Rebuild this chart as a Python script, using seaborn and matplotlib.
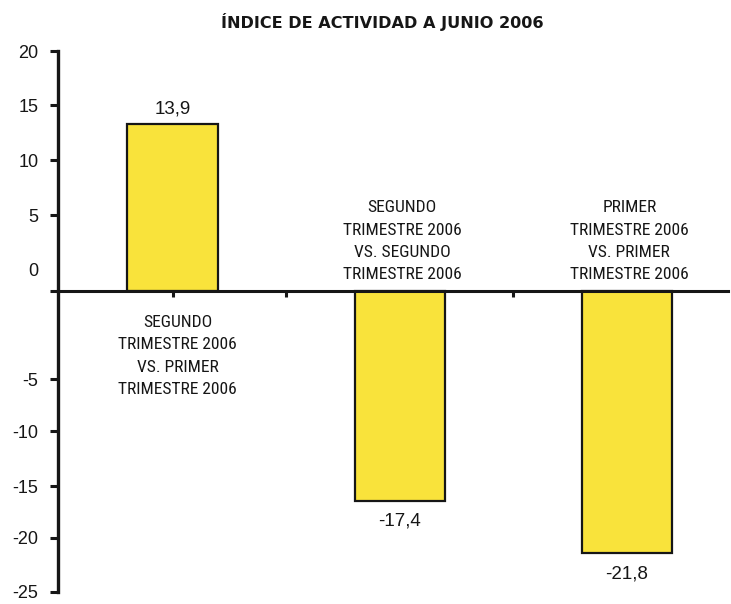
import matplotlib
matplotlib.use("Agg")
import matplotlib.pyplot as plt
from matplotlib import font_manager as fm
import seaborn as sns
import pandas as pd

# data
categories = [
    "SEGUNDO\nTRIMESTRE 2006\nVS. PRIMER\nTRIMESTRE 2006",
    "SEGUNDO\nTRIMESTRE 2006\nVS. SEGUNDO\nTRIMESTRE 2006",
    "PRIMER\nTRIMESTRE 2006\nVS. PRIMER\nTRIMESTRE 2006",
]
values = [13.9, -17.4, -21.8]
value_labels = ["13,9", "-17,4", "-21,8"]
ytick_labels = ["20", "15", "10", "5", "", "-5", "-10", "-15", "-20", "-25"]
title = "ÍNDICE DE ACTIVIDAD A JUNIO 2006"

# tick slots as printed on the original (evenly spaced, one slot empty)
ytick_pos = [20, 15.47, 10.9, 6.32, 0, -7.32, -11.65, -16.2, -20.5, -25]
zero_label_pos = 1.83


def narrow_font():
    """Look for a condensed sans face; the original uses one for the labels."""
    wanted = ["Liberation Sans Narrow", "DejaVu Sans Condensed",
              "Roboto Condensed", "Open Sans Condensed", "Noto Sans Condensed",
              "Arial Narrow"]
    fonts = fm.fontManager.ttflist
    for name in wanted:
        for f in fonts:
            if f.name == name and f.style == "normal" and f.weight in (400, "normal", "regular"):
                return fm.FontProperties(fname=f.fname)
    for f in fonts:
        fn = f.fname.lower()
        if any(k in fn for k in ("bold", "italic", "oblique", "mono", "serif", "light", "thin", "black", "medium", "semi")):
            continue
        if "condensed" in fn or "narrow" in fn or (isinstance(f.stretch, str) and "condensed" in f.stretch):
            return fm.FontProperties(fname=f.fname)
    return None


df = pd.DataFrame({"cat": categories, "val": values})

sns.set_style("ticks")
plt.rcParams["font.family"] = ["Liberation Sans", "DejaVu Sans"]
yellow = "#F9E33B"
ink = "#161616"

nf = narrow_font()
if nf is not None:
    nf.set_size(12.6)
    cat_kw = dict(fontproperties=nf)
else:
    cat_kw = dict(fontsize=10.2, family=["Liberation Sans", "DejaVu Sans"])

fig = plt.figure(figsize=(7.31, 6.04), dpi=100)
ax = fig.add_axes([0.079, 0.02, 0.917, 0.8955])

sns.barplot(data=df, x="cat", y="val", order=categories, color=yellow,
            edgecolor=ink, linewidth=1.6, width=0.4, saturation=1, ax=ax)

ax.set_ylim(-25, 20)
ax.set_xlim(-0.507, 2.445)
ax.set_xlabel("")
ax.set_ylabel("")

# spines
for s in ["top", "right"]:
    ax.spines[s].set_visible(False)
ax.spines["left"].set_linewidth(2.4)
ax.spines["left"].set_color(ink)
ax.spines["bottom"].set_position(("data", 0))
ax.spines["bottom"].set_linewidth(2.2)
ax.spines["bottom"].set_color(ink)

# y ticks
ax.set_yticks(ytick_pos, ytick_labels)
ax.set_yticks([zero_label_pos], ["0"], minor=True)
ax.tick_params(axis="y", which="major", length=6, width=2.2, color=ink,
               labelsize=13, labelcolor=ink, pad=8)
ax.tick_params(axis="y", which="minor", length=0, labelsize=13,
               labelcolor=ink, pad=14)

# x ticks (no labels)
ax.set_xticks([0, 0.5, 1.5], ["", "", ""])
ax.tick_params(axis="x", length=4, width=2.2, color=ink, direction="out")

# category texts
for i, (cat, v) in enumerate(zip(categories, values)):
    if v >= 0:
        ax.text(i + 0.02, -1.95, cat, ha="center", va="top",
                color=ink, linespacing=1.62, **cat_kw)
    else:
        ax.text(i + 0.01, 0.75, cat, ha="center", va="bottom",
                color=ink, linespacing=1.62, **cat_kw)

# value labels
for i, (v, lab) in enumerate(zip(values, value_labels)):
    off = 11 if v >= 0 else -15
    ax.annotate(lab, (i, v), xytext=(0, off), textcoords="offset points",
                ha="center", va="center", fontsize=13.5, color=ink)

fig.text(0.523, 0.964, title, ha="center", va="center", fontsize=11.6,
         fontweight="bold", family=["DejaVu Sans"], color=ink)

fig.savefig("out.png", dpi=100)
